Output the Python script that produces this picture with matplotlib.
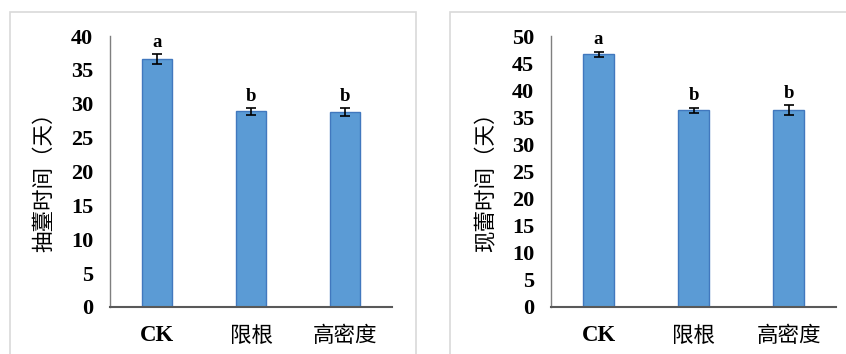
import matplotlib
matplotlib.use("Agg")
import matplotlib.pyplot as plt
from matplotlib.patches import Rectangle

categories = ["CK", "限根", "高密度"]
bolting_days = [36.6, 28.9, 28.8]
bolting_err = [0.7, 0.5, 0.6]
bolting_letters = ["a", "b", "b"]
budding_days = [46.6, 36.3, 36.4]
budding_err = [0.5, 0.5, 0.9]
budding_letters = ["a", "b", "b"]

W, H = 846, 354
fig = plt.figure(figsize=(W / 100, H / 100), dpi=100)

serif = ["Liberation Serif", "DejaVu Serif"]
cjk = ["Noto Sans CJK SC", "DejaVu Sans"]

# panel borders
fig.patches.append(Rectangle((10 / W, -0.1), (416 - 10) / W, 1 - 12 / H + 0.1,
                             transform=fig.transFigure, fill=False,
                             edgecolor="#D9D9D9", linewidth=1.2))
fig.patches.append(Rectangle((450 / W, -0.1), (900 - 450) / W, 1 - 12 / H + 0.1,
                             transform=fig.transFigure, fill=False,
                             edgecolor="#D9D9D9", linewidth=1.2))


def panel(rect, vals, errs, letters, ymax, ylabel, label_x):
    ax = fig.add_axes(rect)
    x = range(len(categories))
    ax.bar(x, vals, width=0.32, color="#5B9BD5", edgecolor="#4178BE",
           linewidth=1.0, zorder=2)
    ax.errorbar(x, vals, yerr=errs, fmt="none", ecolor="black",
                elinewidth=1.2, capsize=3.5, capthick=1.2, zorder=3)
    for xi, v, e, t in zip(x, vals, errs, letters):
        ax.text(xi, v + e + ymax * 0.012, t, ha="center", va="bottom",
                family=serif, fontweight="bold", fontsize=13.5)
    ax.set_xlim(-0.5, len(categories) - 0.5)
    ax.set_ylim(0, ymax)
    ax.set_yticks(range(0, ymax + 1, 5))
    ax.set_yticklabels([str(v) for v in range(0, ymax + 1, 5)],
                       family=serif, fontweight="bold", fontsize=16)
    ax.set_xticks(list(x))
    labels = ax.set_xticklabels(categories, fontsize=15.5)
    for lab, c in zip(labels, categories):
        if c == "CK":
            lab.set_family(serif)
            lab.set_fontweight("bold")
            lab.set_fontsize(16.5)
        else:
            lab.set_family(cjk)
    ax.tick_params(axis="both", length=0)
    ax.tick_params(axis="x", pad=13)
    ax.tick_params(axis="y", pad=12)
    for s in ["top", "right"]:
        ax.spines[s].set_visible(False)
    ax.spines["left"].set_color("#7F7F7F")
    ax.spines["bottom"].set_color("#595959")
    ax.spines["left"].set_linewidth(1.0)
    ax.spines["bottom"].set_linewidth(1.5)
    fig.text(label_x / W, 1 - 177 / H, ylabel, rotation=90, ha="center",
             va="center", family=cjk, fontsize=15.5)
    return ax


bottom = 1 - 307 / H
height = (307 - 36) / H
panel([110 / W, bottom, 282 / W, height], bolting_days, bolting_err,
      bolting_letters, 40, "抽薹时间（天）", 44)
panel([551 / W, bottom, 285 / W, height], budding_days, budding_err,
      budding_letters, 50, "现蕾时间（天）", 486)

fig.savefig("out.png", dpi=100)
